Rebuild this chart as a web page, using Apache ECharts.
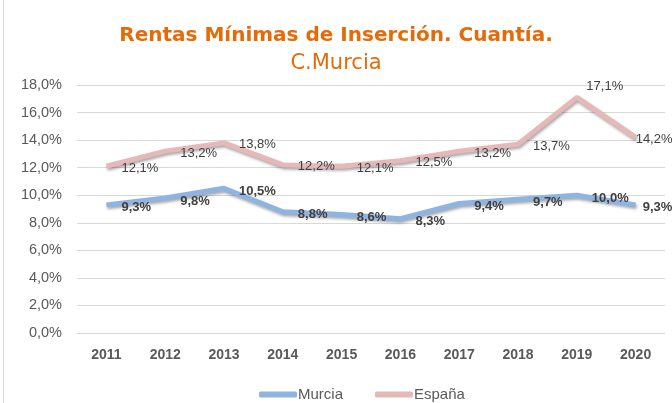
<!DOCTYPE html>
<html>
<head>
<meta charset="utf-8">
<script src="https://cdn.jsdelivr.net/npm/echarts@6/dist/echarts.min.js"></script>
<style>
  html, body { margin: 0; padding: 0; background: #fff; }
  #chart { width: 672px; height: 403px; }
</style>
</head>
<body>
<div id="chart"></div>
<script>
// data
var years = ['2011', '2012', '2013', '2014', '2015', '2016', '2017', '2018', '2019', '2020'];
var murcia = [9.3, 9.8, 10.5, 8.8, 8.6, 8.3, 9.4, 9.7, 10.0, 9.3];
var espana = [12.1, 13.2, 13.8, 12.2, 12.1, 12.5, 13.2, 13.7, 17.1, 14.2];

function pct(v) {
    return v.toFixed(1).replace('.', ',') + '%';
}

var chart = echarts.init(document.getElementById('chart'));

var lineShadow = {
    shadowColor: 'rgba(0,0,0,0.35)',
    shadowBlur: 3,
    shadowOffsetX: 1,
    shadowOffsetY: 2
};

var last = years.length - 1;

// label tweaks: last point labels hug the line end, 2019 peak sits above-right
var murciaData = murcia.map(function (v, i) {
    if (i === last) {
        return {value: v, label: {distance: 7}};
    }
    return v;
});
var espanaData = espana.map(function (v, i) {
    if (i === 8) {
        return {value: v, label: {position: 'top', distance: 6, offset: [28, 2]}};
    }
    if (i === last) {
        return {value: v, label: {distance: 0}};
    }
    return v;
});

var option = {
    backgroundColor: '#fff',
    animation: false,
    title: [{
        text: 'Rentas Mínimas de Inserción. Cuantía.',
        left: 'center',
        top: 21,
        textStyle: {
            color: '#E36C09',
            fontFamily: 'DejaVu Sans',
            fontWeight: 'bold',
            fontSize: 20
        }
    }, {
        text: 'C.Murcia',
        left: 'center',
        top: 48,
        textStyle: {
            color: '#E36C09',
            fontFamily: 'DejaVu Sans',
            fontWeight: 'normal',
            fontSize: 21
        }
    }],
    legend: {
        top: 382,
        left: 254,
        itemWidth: 38,
        itemHeight: 6,
        itemGap: 32,
        icon: 'roundRect',
        textStyle: {
            color: '#595959',
            fontFamily: 'Liberation Sans',
            fontSize: 15,
            padding: [0, 0, 0, -4]
        },
        data: ['Murcia', 'España']
    },
    grid: {
        left: 77,
        right: 7,
        top: 85,
        bottom: 70,
        containLabel: false
    },
    graphic: [{
        type: 'line',
        shape: {x1: 3.5, y1: 0, x2: 3.5, y2: 403},
        style: {stroke: '#d9d9d9', lineWidth: 1}
    }],
    xAxis: {
        type: 'category',
        data: years,
        boundaryGap: true,
        axisLine: {show: false},
        axisTick: {show: false},
        axisLabel: {
            margin: 15,
            color: '#595959',
            fontFamily: 'Liberation Sans',
            fontWeight: 'bold',
            fontSize: 14
        }
    },
    yAxis: {
        type: 'value',
        min: 0,
        max: 18,
        interval: 2,
        axisLine: {show: false},
        axisTick: {show: false},
        splitLine: {lineStyle: {color: '#d9d9d9', width: 1}},
        axisLabel: {
            margin: 15,
            color: '#595959',
            fontFamily: 'Liberation Sans',
            fontSize: 14.5,
            formatter: function (v) { return pct(v); }
        }
    },
    series: [{
        name: 'Murcia',
        type: 'line',
        data: murciaData,
        symbol: 'circle',
        symbolSize: 0.1,
        itemStyle: {color: '#8EB4E3'},
        lineStyle: Object.assign({color: '#8EB4E3', width: 5}, lineShadow),
        label: {
            show: true,
            position: 'right',
            distance: 15,
            offset: [0, 3],
            color: '#404040',
            fontFamily: 'Liberation Sans',
            fontWeight: 'bold',
            fontSize: 13,
            formatter: function (p) { return pct(p.value); }
        }
    }, {
        name: 'España',
        type: 'line',
        data: espanaData,
        symbol: 'circle',
        symbolSize: 0.1,
        itemStyle: {color: '#E6B9B8'},
        lineStyle: Object.assign({color: '#E6B9B8', width: 5}, lineShadow),
        label: {
            show: true,
            position: 'right',
            distance: 15,
            offset: [0, 2],
            color: '#404040',
            fontFamily: 'Liberation Sans',
            fontSize: 13,
            formatter: function (p) { return pct(p.value); }
        }
    }]
};

chart.setOption(option);
</script>
</body>
</html>
